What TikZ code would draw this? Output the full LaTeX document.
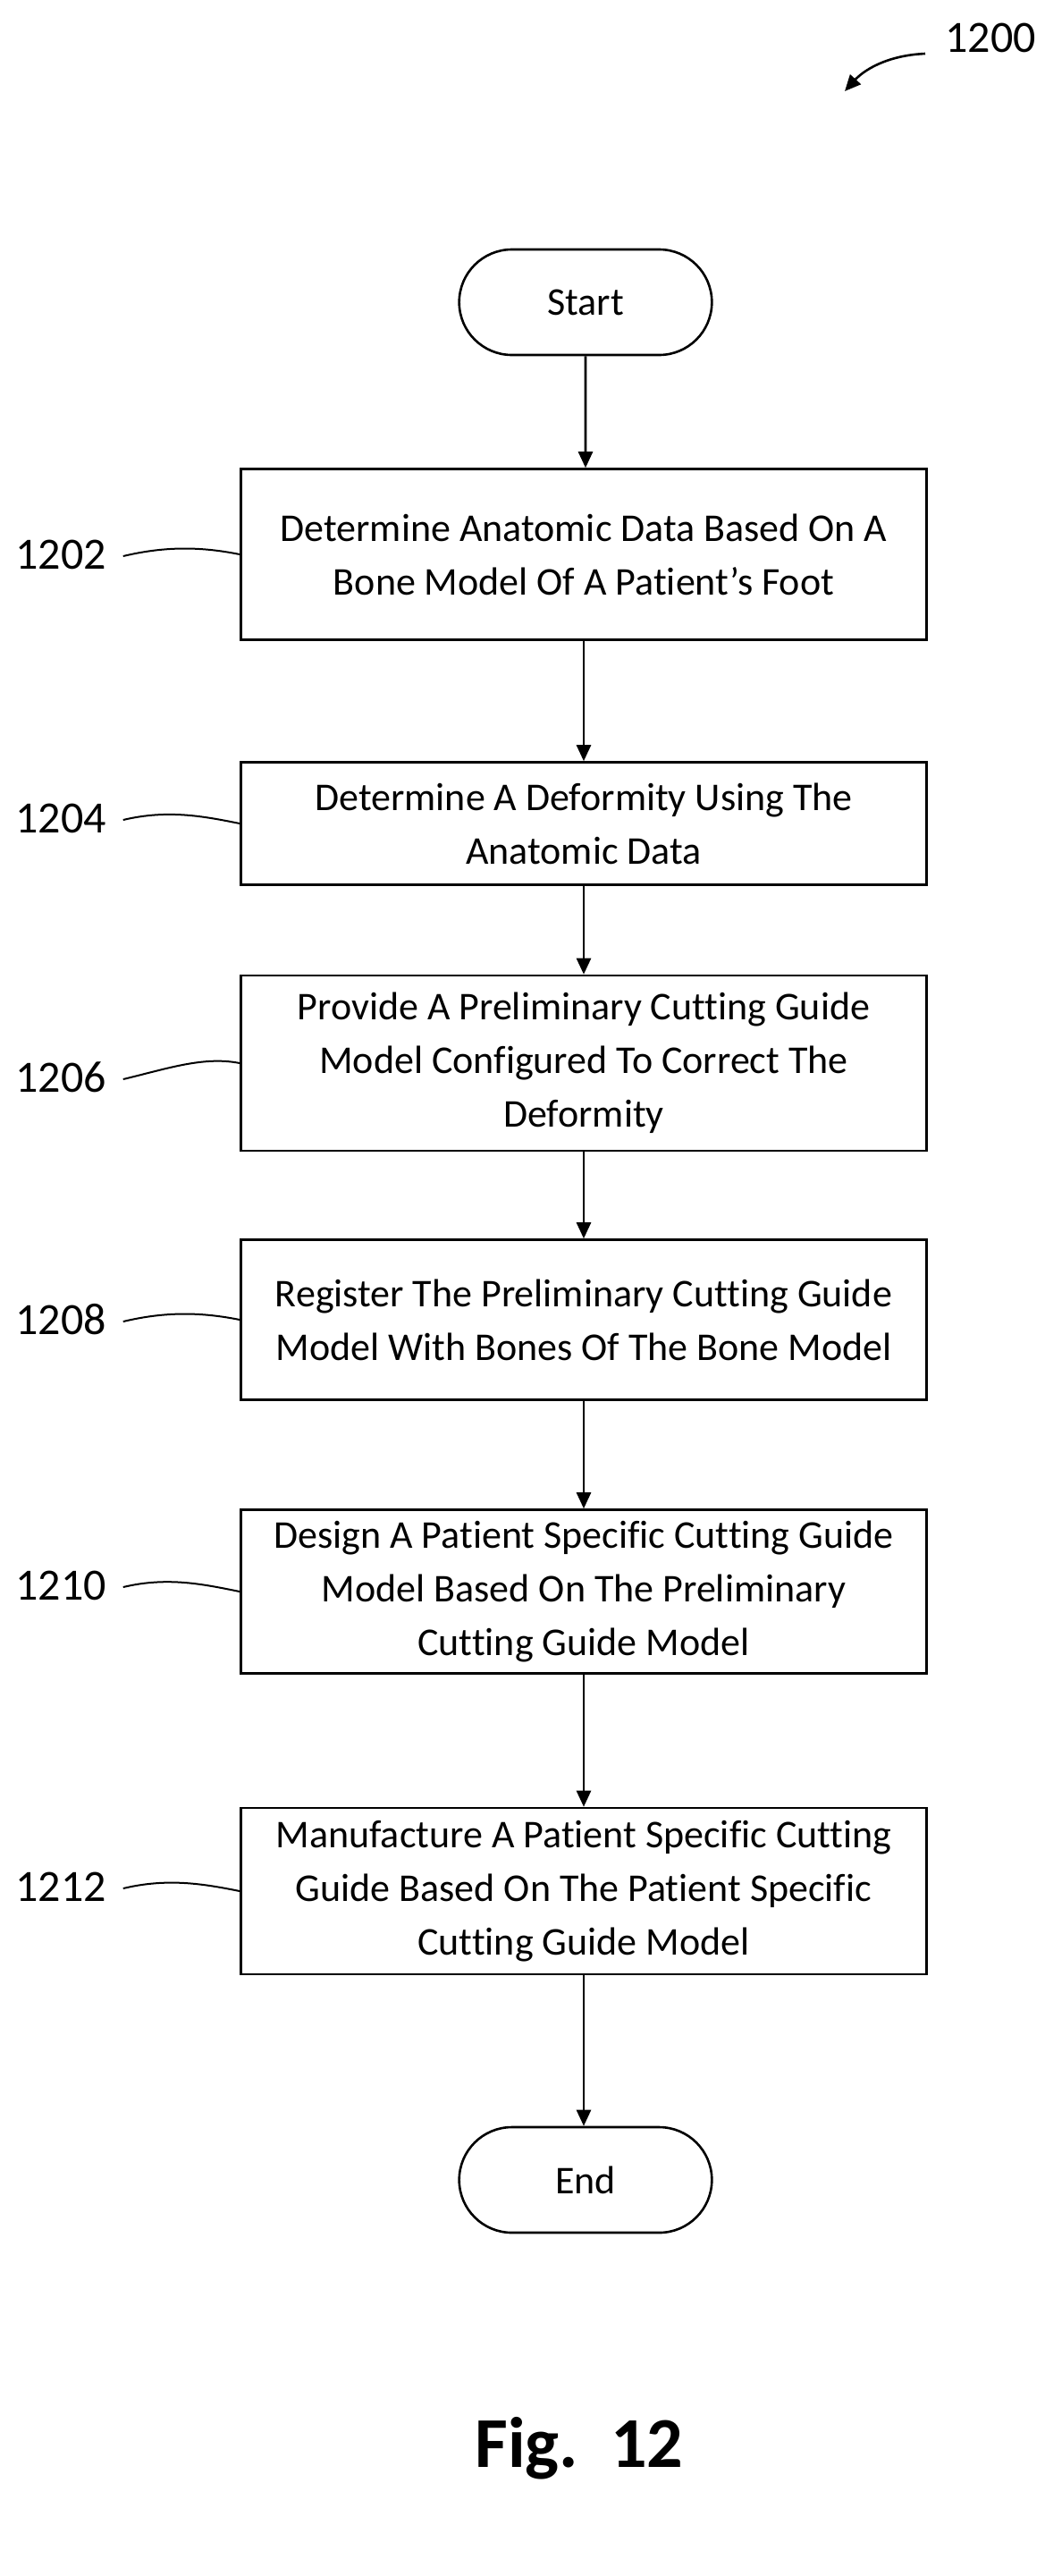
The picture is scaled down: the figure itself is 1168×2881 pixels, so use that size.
\documentclass[tikz,border=0pt]{standalone}
\usepackage{fontspec}
\setmainfont{Carlito}[Ligatures=NoCommon]
\usetikzlibrary{arrows.meta,shapes.misc}
\begin{document}
\begin{tikzpicture}[x=0.5pt,y=-0.5pt,
 box/.style={draw,line width=1.3pt,minimum width=383.5pt,align=center,font=\fontsize{22}{30}\selectfont,inner sep=0pt},
 term/.style={draw,line width=1.3pt,rounded rectangle,minimum width=148pt,minimum height=59pt,font=\fontsize{22}{26}\selectfont},
 arr/.style={line width=1.3pt,-{Triangle[length=9pt,width=8pt]}},
 lab/.style={font=\fontsize{25}{28}\selectfont},
 lead/.style={line width=1pt}]
\useasboundingbox (0,0) rectangle (1168,2881);
\node[term] (s) at (655,338) {Start};
\node[box,minimum height=95.5pt] (b1) at (653,620) {Determine Anatomic Data Based On A\\Bone Model Of A Patient’s Foot};
\node[box,minimum height=68.5pt] (b2) at (653,921) {Determine A Deformity Using The\\Anatomic Data};
\node[box,minimum height=98pt] (b3) at (653,1189) {Provide A Preliminary Cutting Guide\\Model Configured To Correct The\\Deformity};
\node[box,minimum height=89.5pt] (b4) at (653,1476) {Register The Preliminary Cutting Guide\\Model With Bones Of The Bone Model};
\node[box,minimum height=91.5pt] (b5) at (653,1780) {Design A Patient Specific Cutting Guide\\Model Based On The Preliminary\\Cutting Guide Model};
\node[box,minimum height=93pt] (b6) at (653,2115) {Manufacture A Patient Specific Cutting\\Guide Based On The Patient Specific\\Cutting Guide Model};
\node[term] (e) at (655,2438) {End};
\draw[arr] (s) -- (s|-b1.north);
\draw[arr] (b1) -- (b2);
\draw[arr] (b2) -- (b3);
\draw[arr] (b3) -- (b4);
\draw[arr] (b4) -- (b5);
\draw[arr] (b5) -- (b6);
\draw[arr] (b6) -- (e.north-|b6);
\foreach \n/\t/\y in {b1/1202/620,b2/1204/915,b3/1206/1205,b4/1208/1476,b5/1210/1773,b6/1212/2110}{
 \node[lab] (l\t) at (68,\y) {\t};
 \coordinate (c\t) at (\n.west);
 \draw[lead] (l\t.east)++(12,2) .. controls +(50,-12) and +(-40,-8) .. (c\t);
}
\node[lab] (n1200) at (1108,42) {1200};
\coordinate (a1) at (1035,60);
\draw[line width=1.3pt,-{Triangle[length=9pt,width=8pt]}] (a1) .. controls (990,62) and (965,80) .. (945,102);
\node[font=\bfseries\fontsize{40}{44}\selectfont] (fig) at (648,2738) {Fig.\ \ 12};
\end{tikzpicture}
\end{document}
